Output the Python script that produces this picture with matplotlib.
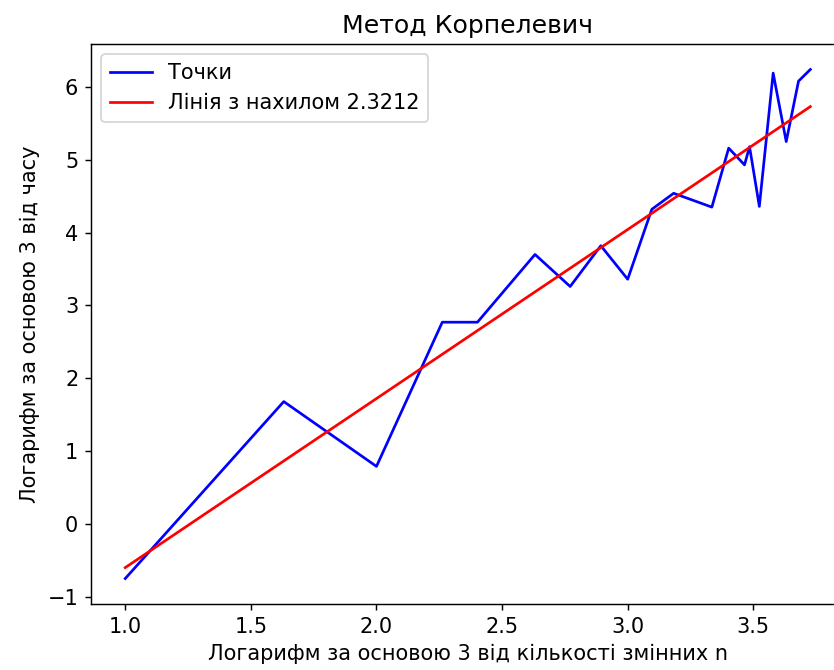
import matplotlib
matplotlib.use("Agg")
import numpy as np
import matplotlib.pyplot as plt

plt.rcParams["font.size"] = 11.6

# log3(n) of variable count and log3 of run time
log_n = [1.0, 1.631, 2.0, 2.262, 2.402, 2.631, 2.771, 2.893, 3.0, 3.096,
         3.183, 3.335, 3.402, 3.465, 3.485, 3.524, 3.579, 3.631, 3.680, 3.727]
log_t = [-0.75, 1.68, 0.79, 2.77, 2.77, 3.70, 3.26, 3.82, 3.36, 4.32,
         4.54, 4.35, 5.16, 4.93, 5.18, 4.36, 6.19, 5.25, 6.08, 6.24]

slope = 2.3212
intercept = -2.921

x = np.array(log_n)
fit = slope * x + intercept

fig = plt.figure(figsize=(834 / 130, 670 / 130), dpi=130)
ax = fig.add_axes([0.1091, 0.0985, 0.9036, 0.8358])
ax.plot(x, log_t, color="blue", label="Точки")
ax.plot(x, fit, color="red", label=f"Лінія з нахилом {slope}")
ax.set_title("Метод Корпелевич")
ax.set_xlabel("Логарифм за основою 3 від кількості змінних n")
ax.set_ylabel("Логарифм за основою 3 від часу")
ax.legend(loc="upper left")
fig.savefig("out.png", dpi=130)
